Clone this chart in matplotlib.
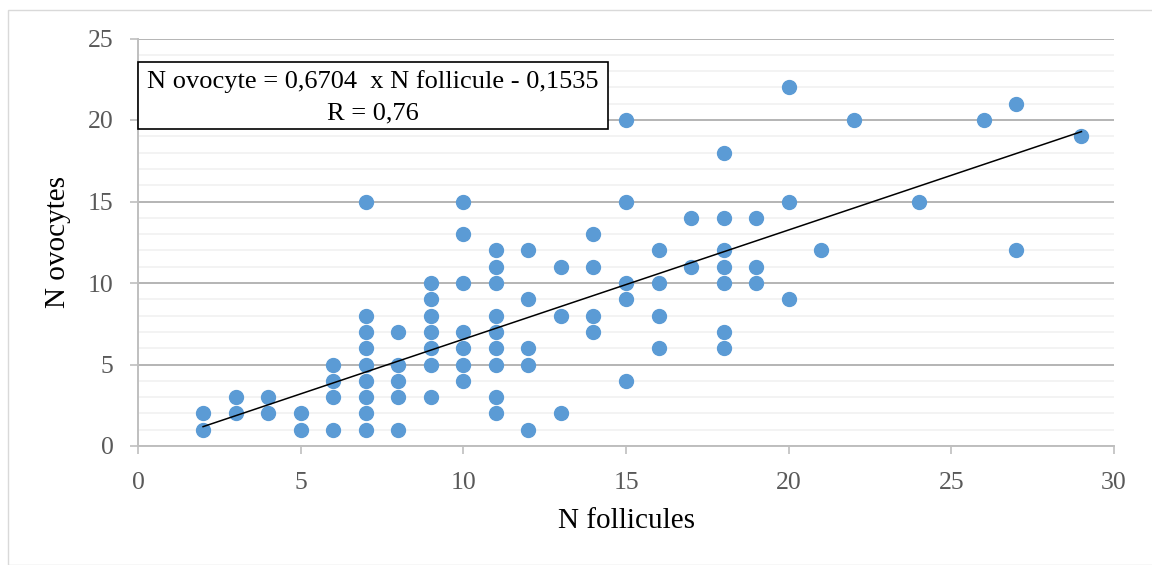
import matplotlib.pyplot as plt
from matplotlib.patches import Rectangle
import numpy as np

# data
follicules = [2, 2, 3, 3, 4, 4, 5, 5,
              6, 6, 6, 6,
              7, 7, 7, 7, 7, 7, 7, 7, 7,
              8, 8, 8, 8, 8,
              9, 9, 9, 9, 9, 9, 9,
              10, 10, 10, 10, 10, 10, 10,
              11, 11, 11, 11, 11, 11, 11, 11, 11,
              12, 12, 12, 12, 12,
              13, 13, 13,
              14, 14, 14, 14,
              15, 15, 15, 15, 15,
              16, 16, 16, 16,
              17, 17,
              18, 18, 18, 18, 18, 18, 18,
              19, 19, 19,
              20, 20, 20,
              21, 22, 24, 26, 27, 27, 29]
ovocytes = [2, 1, 3, 2, 3, 2, 2, 1,
            5, 4, 3, 1,
            15, 8, 7, 6, 5, 4, 3, 2, 1,
            7, 5, 4, 3, 1,
            10, 9, 8, 7, 6, 5, 3,
            15, 13, 10, 7, 6, 5, 4,
            12, 11, 10, 8, 7, 6, 5, 3, 2,
            12, 9, 6, 5, 1,
            11, 8, 2,
            13, 11, 8, 7,
            20, 15, 10, 9, 4,
            12, 10, 8, 6,
            14, 11,
            18, 14, 12, 11, 10, 7, 6,
            14, 11, 10,
            22, 15, 9,
            12, 20, 15, 20, 21, 12, 19]
slope = 0.6704
intercept = -0.1535
r_value = 0.76

plt.rcParams['font.family'] = ['Liberation Serif', 'DejaVu Serif']

W, H = 1152, 565
fig = plt.figure(figsize=(W / 100, H / 100), dpi=100)
ax = fig.add_axes([138 / W, 1 - 446 / H, (1114 - 138) / W, (446 - 38.5) / H])

# outer chart frame
fig.patches.append(Rectangle((8 / W, 0), 1.2, 1 - 10 / H, transform=fig.transFigure,
                             fill=False, edgecolor='#d9d9d9', linewidth=1.0))

ax.set_xlim(0, 30)
ax.set_ylim(0, 25)
ax.set_xticks(np.arange(0, 31, 5))
ax.set_yticks(np.arange(0, 26, 5))
ax.set_yticks(np.arange(0, 26, 1), minor=True)
ax.grid(True, which='major', axis='y', color='#a0a0a0', linewidth=1.1, zorder=1)
ax.grid(True, which='minor', axis='y', color='#f0f0f0', linewidth=1.1, zorder=0)
ax.set_axisbelow(True)

for s in ['top', 'right']:
    ax.spines[s].set_visible(False)
for s in ['left', 'bottom']:
    ax.spines[s].set_color('#bfbfbf')
    ax.spines[s].set_linewidth(1.4)

ax.tick_params(axis='y', which='major', direction='out', length=5.5, width=1.2,
               color='#bfbfbf', labelcolor='#595959', labelsize=18.5, pad=12)
ax.tick_params(axis='y', which='minor', length=0)
ax.tick_params(axis='x', which='major', direction='out', length=5.5, width=1.2,
               color='#bfbfbf', labelcolor='#595959', labelsize=18.5, pad=13)

ax.plot(follicules, ovocytes, linestyle='none', marker='o', markersize=10,
        color='#5b9bd5', zorder=3, clip_on=False)

xs = np.array([min(follicules), max(follicules)])
ax.plot(xs, slope * xs + intercept, color='black', linewidth=1.1, zorder=4)

ax.set_xlabel('N follicules', fontsize=21, labelpad=10)
ax.set_ylabel('N ovocytes', fontsize=21, labelpad=12)

# equation box
fig.patches.append(Rectangle((138 / W, 1 - 129 / H), 470 / W, 67 / H, transform=fig.transFigure,
                             facecolor='white', edgecolor='black', linewidth=1.2, zorder=5))
eq = 'N ovocyte = {}  x N follicule - {}'.format(str(slope).replace('.', ','),
                                                 str(abs(intercept)).replace('.', ','))
fig.text(373 / W, 1 - 82 / H, eq, ha='center', va='center', fontsize=19, zorder=6)
fig.text(373 / W, 1 - 113 / H, 'R = ' + str(r_value).replace('.', ','),
         ha='center', va='center', fontsize=19, zorder=6)

fig.savefig('out.png', dpi=100)
